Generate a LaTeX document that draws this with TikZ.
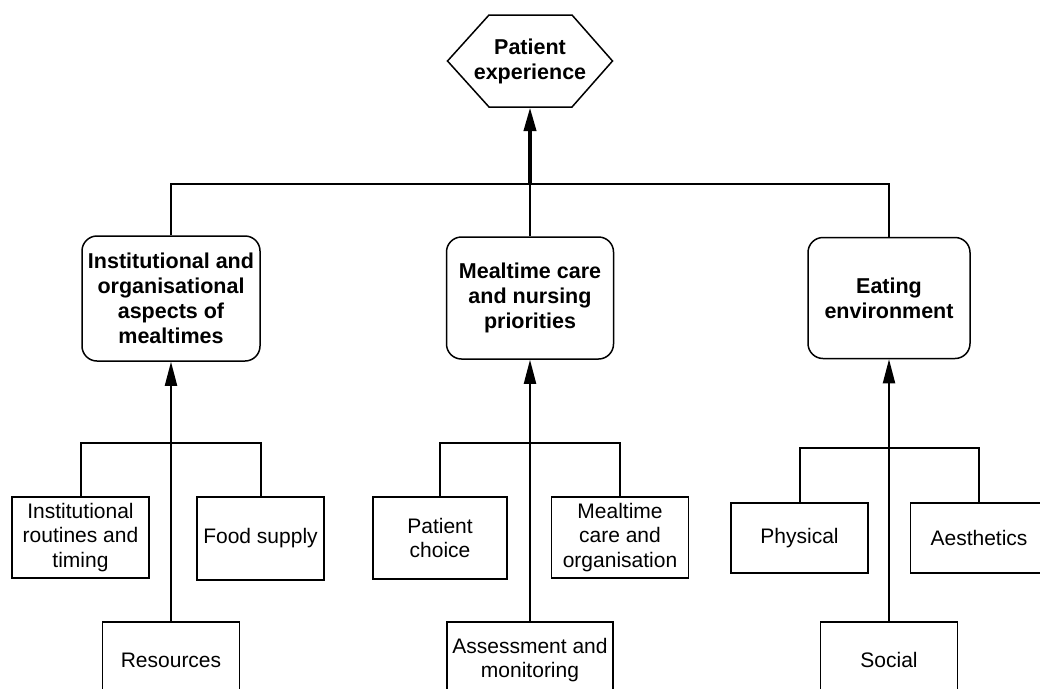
\documentclass[tikz,border=0pt]{standalone}
\usepackage{fontspec}
\setmainfont{Liberation Sans}
\usetikzlibrary{arrows.meta, positioning}
\tikzset{
  treenode/.style = {align=center, inner sep=0pt, text centered,
    font=\fontsize{21}{24.5}\selectfont},
  theme/.style = {treenode, draw=black, line width=1.5pt,
    rounded corners=15pt, font=\fontsize{21.5}{25}\selectfont\bfseries},
  sub/.style = {treenode, draw=black, line width=1.5pt,
    minimum width=137pt, minimum height=81pt},
  link/.style = {line width=2pt},
  up/.style = {link, -{Triangle[length=24pt, width=12pt]}}
}

\begin{document}
\begin{tikzpicture}[x=1pt, y=-1pt]
\useasboundingbox (0,0) rectangle (1040,688);
\clip (0,0) rectangle (1040,688);

% top
\node [treenode, font=\fontsize{21.5}{25}\selectfont\bfseries,
  minimum width=165pt, minimum height=92pt] (pe) at (530,61)
  {Patient\\experience};
\draw [line width=1.5pt] (pe.center) +(-82.5,0) -- +(-41,-46) -- +(42,-46)
  -- +(82.5,0) -- +(42,46) -- +(-41,46) -- cycle;

% themes
\node [theme, minimum width=178pt, minimum height=125pt] (inst) at (171,298.5)
  {Institutional and\\organisational\\aspects of\\mealtimes};
\node [theme, minimum width=167pt, minimum height=122pt] (care) at (530,298)
  {Mealtime care\\and nursing\\priorities};
\node [theme, minimum width=162pt, minimum height=121pt] (env) at (889,298)
  {Eating\\environment};

\coordinate (hub) at (530,184);
\draw [link] (inst.north) -- (inst.north |- hub) -- (env.north |- hub)
  -- (env.north);
\draw [link] (care.north) -- (hub);
\draw [up, line width=4pt] (hub) -- (pe.south);

% institutional
\node [sub] (routines) at (80.5,537.5) {Institutional\\routines and\\timing};
\node [sub, minimum width=127pt, minimum height=83pt] (food) at (260.5,538.5)
  {Food supply};
\node [sub, minimum height=76pt] (res) at (171,660) {Resources};
\coordinate (j1) at (171,443);
\draw [link] (routines.north) |- (j1) -| (food.north);
\draw [up] (res.north) -- (inst.south);

% mealtime care
\node [sub, minimum width=134pt, minimum height=82pt] (choice) at (440,538)
  {Patient\\choice};
\node [sub] (organ) at (620,537.5) {Mealtime\\care and\\organisation};
\node [sub, minimum width=166pt, minimum height=76pt] (assess) at (530,660)
  {Assessment and\\monitoring};
\coordinate (j2) at (530,443);
\draw [link] (choice.north) |- (j2) -| (organ.north);
\draw [up] (assess.north) -- (care.south);

% environment
\node [sub, minimum height=70pt] (phys) at (799.5,538) {Physical};
\node [sub, minimum height=70pt] (aest) at (979,538) {Aesthetics};
\node [sub, minimum height=76pt] (social) at (889,660) {Social};
\coordinate (j3) at (889,448);
\draw [link] (phys.north) |- (j3) -| (aest.north);
\draw [up] (social.north) -- (env.south);
\end{tikzpicture}
\end{document}
